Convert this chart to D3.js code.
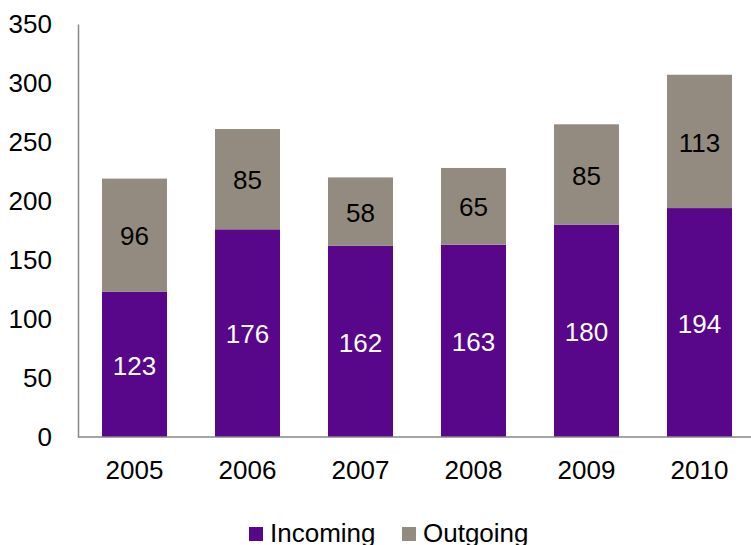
<!DOCTYPE html>
<html lang="en">
<head>
<meta charset="UTF-8">
<title>Incoming / Outgoing</title>
<script src="https://cdnjs.cloudflare.com/ajax/libs/d3/7.8.5/d3.min.js"></script>
<style>
    * { margin: 0; padding: 0; }
    body { background: #fff; font-family: "Liberation Sans", Arial, sans-serif; }
    svg { display: block; }
</style>
</head>
<body>
<svg id="chart" width="751" height="545"></svg>
<script>
// data
const years = ["2005", "2006", "2007", "2008", "2009", "2010"];
const incoming = [123, 176, 162, 163, 180, 194];
const outgoing = [96, 85, 58, 65, 85, 113];
const yTicks = [0, 50, 100, 150, 200, 250, 300, 350];
const seriesNames = ["Incoming", "Outgoing"];
const colors = ["#58068a", "#948b80"];

const svg = d3.select("#chart");
const fontSize = 26;

const x = d3.scaleBand()
    .domain(years)
    .range([78, 756])
    .paddingInner(0.425)
    .paddingOuter(0.2125);

const y = d3.scaleLinear().domain([0, 350]).range([437, 24]);

const rows = years.map((yr, i) => ({ year: yr, Incoming: incoming[i], Outgoing: outgoing[i] }));
const stacked = d3.stack().keys(seriesNames)(rows);

// bars
const layers = svg.selectAll("g.layer")
    .data(stacked)
    .join("g")
    .attr("class", "layer")
    .attr("fill", (d, i) => colors[i]);

layers.selectAll("rect")
    .data(d => d)
    .join("rect")
    .attr("x", d => x(d.data.year))
    .attr("width", x.bandwidth())
    .attr("y", d => y(d[1]))
    .attr("height", d => y(d[0]) - y(d[1]));

// value labels
layers.selectAll("text")
    .data((d, i) => d.map(v => ({ v, i, key: d.key })))
    .join("text")
    .attr("x", d => x(d.v.data.year) + x.bandwidth() / 2)
    .attr("y", d => (y(d.v[0]) + y(d.v[1])) / 2 + 1)
    .attr("dy", "0.35em")
    .attr("text-anchor", "middle")
    .attr("font-size", fontSize)
    .attr("fill", d => d.i === 0 ? "#fff" : "#000")
    .text(d => d.v.data[d.key]);

// y axis
const yAxis = svg.append("g")
    .attr("transform", "translate(78,0)")
    .call(d3.axisLeft(y).tickValues(yTicks).tickSize(0).tickPadding(26));
yAxis.select(".domain").attr("stroke", "#878787").attr("stroke-width", 1.5);
yAxis.selectAll("text")
    .attr("font-size", fontSize)
    .attr("font-family", "Liberation Sans, Arial, sans-serif")
    .attr("fill", "#000");

// x axis
const xAxis = svg.append("g")
    .attr("transform", "translate(0,437)")
    .call(d3.axisBottom(x).tickSize(0).tickPadding(24));
xAxis.select(".domain").attr("d", "M78,0H751").attr("stroke", "#878787").attr("stroke-width", 1.5);
xAxis.selectAll("text")
    .attr("font-size", fontSize)
    .attr("font-family", "Liberation Sans, Arial, sans-serif")
    .attr("fill", "#000");

// legend
const legendX = [249, 402];
const legend = svg.append("g").selectAll("g")
    .data(seriesNames)
    .join("g")
    .attr("transform", (d, i) => `translate(${legendX[i]},527)`);
legend.append("rect")
    .attr("width", 14)
    .attr("height", 14)
    .attr("fill", (d, i) => colors[i]);
legend.append("text")
    .attr("x", 21)
    .attr("y", 15)
    .attr("font-size", fontSize)
    .attr("fill", "#000")
    .text(d => d);
</script>
</body>
</html>
